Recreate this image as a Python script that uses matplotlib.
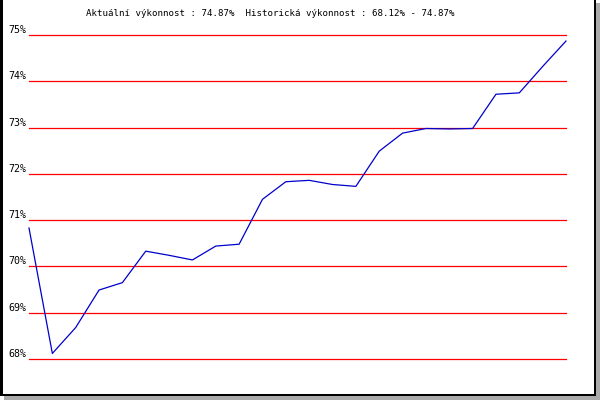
import matplotlib
matplotlib.use('Agg')
import matplotlib.pyplot as plt
from matplotlib.patches import Rectangle

# hodnoty vykonnosti (%)
vykon = [70.83, 68.12, 68.68, 69.49, 69.65, 70.33, 70.24, 70.14, 70.44, 70.48,
         71.45, 71.83, 71.86, 71.77, 71.73, 72.49, 72.88, 72.98, 72.97, 72.98,
         73.72, 73.75, 74.32, 74.87]
urovne = [68, 69, 70, 71, 72, 73, 74, 75]
popisky = ['68%', '69%', '70%', '71%', '72%', '73%', '74%', '75%']
nadpis = 'Aktuální výkonnost : 74.87%  Historická výkonnost : 68.12% - 74.87%'

fig = plt.figure(figsize=(6, 4), dpi=100)
fig.patch.set_facecolor('white')

# ramecek se stinem (souradnice v pixelech)
fig.patches.append(Rectangle((4, 0), 596, 397, transform=None,
                             facecolor='#aaaaaa', edgecolor='none', zorder=0))
fig.patches.append(Rectangle((0, 4), 596, 400, transform=None,
                             facecolor='black', edgecolor='none', zorder=1))
fig.patches.append(Rectangle((3, 6), 591, 400, transform=None,
                             facecolor='white', edgecolor='none', zorder=2))

ax = fig.add_axes([29 / 600, 1 - 359 / 400, 537 / 600, 324 / 400])
ax.set_facecolor('none')
ax.set_zorder(3)
ax.set_xlim(0, len(vykon) - 1)
ax.set_ylim(68, 75)

for u in urovne:
    ax.axhline(u, color='#ff0000', linewidth=0.9, zorder=1, clip_on=False)

ax.plot(range(len(vykon)), vykon, color='#0000cc', linewidth=0.9, zorder=2,
        clip_on=False)

for s in ax.spines.values():
    s.set_visible(False)
ax.set_xticks([])
ax.set_yticks(urovne)
ax.set_yticklabels(popisky, family='DejaVu Sans Mono', fontsize=7.2)
ax.tick_params(axis='y', length=0, pad=2)
for lab in ax.get_yticklabels():
    lab.set_va('bottom')

fig.text(270 / 600, 1 - 14 / 400, nadpis, ha='center', va='center',
         family='DejaVu Sans Mono', fontsize=6.6, zorder=5)

fig.savefig('out.png', dpi=100)
